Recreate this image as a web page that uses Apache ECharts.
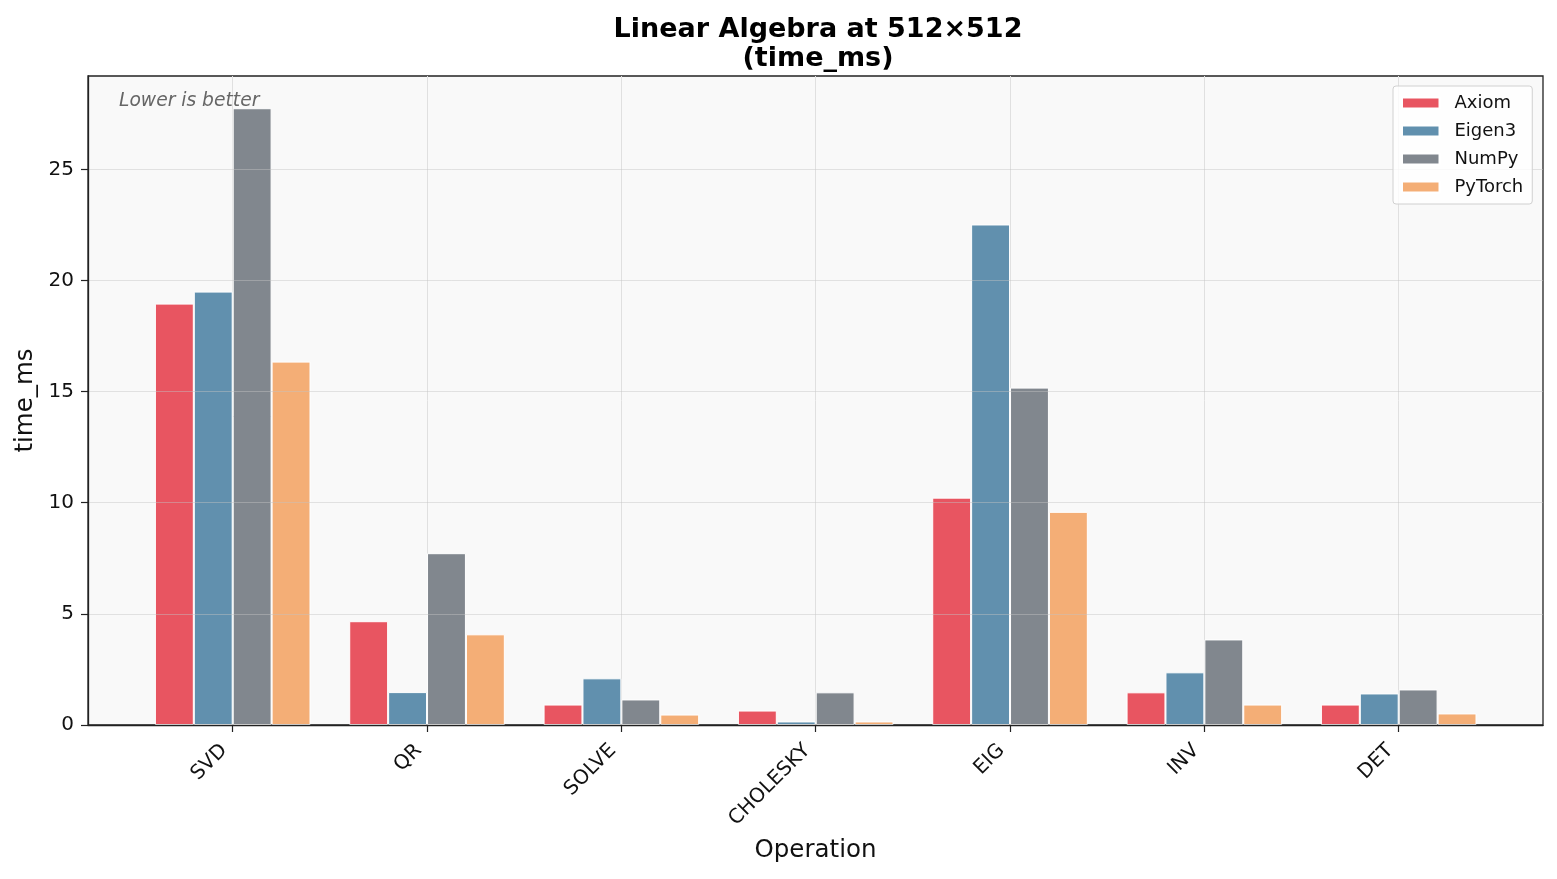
<!DOCTYPE html>
<html>
<head>
<meta charset="utf-8">
<script src="https://cdn.jsdelivr.net/npm/echarts@6/dist/echarts.min.js"></script>
<style>
  html, body { margin: 0; padding: 0; background: #fff; }
  #chart { width: 1557px; height: 879px; }
</style>
</head>
<body>
<div id="chart"></div>
<script>
// values
var operations = ['SVD', 'QR', 'SOLVE', 'CHOLESKY', 'EIG', 'INV', 'DET'];
var libraries = ['Axiom', 'Eigen3', 'NumPy', 'PyTorch'];
var axiom   = [18.96, 4.67, 0.92, 0.65, 10.23, 1.47, 0.92];
var eigen3  = [19.50, 1.48, 2.10, 0.16, 22.52, 2.37, 1.42];
var numpy   = [27.75, 7.73, 1.15, 1.47, 15.18, 3.85, 1.60];
var pytorch = [16.35, 4.08, 0.47, 0.16,  9.59, 0.92, 0.52];
var yTicks = [0, 5, 10, 15, 20, 25];

var colors = ['#e85561', '#6190ae', '#81878e', '#f4ae76'];
var font = 'DejaVu Sans';

var chart = echarts.init(document.getElementById('chart'));

var seriesData = [axiom, eigen3, numpy, pytorch];
var series = seriesData.map(function(d, i){
  return {
    name: libraries[i],
    type: 'bar',
    xAxisIndex: 1,
    yAxisIndex: 1,
    data: d,
    barWidth: 38.9,
    barGap: '0%',
    clip: false,
    itemStyle: { color: colors[i], borderColor: '#ffffff', borderWidth: 1 }
  };
});

chart.setOption({
  animation: false,
  textStyle: { fontFamily: font },
  title: [
    {
      text: 'Linear Algebra at 512×512\n(time_ms)',
      left: 813,
      top: 10,
      textAlign: 'center',
      textStyle: { fontFamily: font, fontSize: 27, fontWeight: 'bold', color: '#000', lineHeight: 29 }
    },
    {
      text: 'Lower is better',
      left: 114,
      top: 87,
      textStyle: { fontFamily: font, fontSize: 18.7, fontStyle: 'italic', fontWeight: 'normal', color: '#666' }
    }
  ],
  legend: {
    data: libraries,
    orient: 'vertical',
    left: 1393,
    top: 86,
    itemWidth: 37.5,
    itemHeight: 11,
    itemGap: 10,
    padding: [8, 9, 8, 8],
    backgroundColor: 'rgba(255,255,255,0.8)',
    borderColor: '#d0d0d0',
    borderWidth: 1,
    borderRadius: 3,
    icon: 'rect',
    textStyle: { fontFamily: font, fontSize: 18, color: '#111', padding: [0, 0, 0, 10] }
  },
  grid: [
    { left: 88, right: 14, top: 76, bottom: 154, show: true, backgroundColor: '#f9f9f9', borderColor: '#222', borderWidth: 1.3 },
    { left: 232.7, right: 158.3, top: 76, bottom: 154 }
  ],
  xAxis: [
    {
      type: 'value', gridIndex: 0, min: 0, max: 1, z: 4,
      axisLine: { show: true, lineStyle: { color: '#222', width: 1.3 } },
      axisTick: { show: false }, axisLabel: { show: false }, splitLine: { show: false },
      name: 'Operation', nameLocation: 'middle', nameGap: 113,
      nameTextStyle: { fontFamily: font, fontSize: 24.5, color: '#111' }
    },
    {
      type: 'category', gridIndex: 1, data: operations, boundaryGap: false,
      axisLine: { show: false },
      axisTick: { show: true, length: 7, lineStyle: { color: '#222', width: 1.2 } },
      axisLabel: {
        rotate: 45, fontFamily: font, fontSize: 20, color: '#111', margin: 14, interval: 0,
        padding: [0, 12, 0, 0]
      },
      splitLine: { show: true, lineStyle: { color: '#e0e0e0', width: 1 } }
    }
  ],
  yAxis: [
    {
      type: 'value', gridIndex: 0, min: 0, max: 29.2, interval: 5, z: 3,
      axisLine: { show: true, lineStyle: { color: '#222', width: 1.3 } },
      axisTick: { show: true, length: 7, customValues: yTicks, lineStyle: { color: '#222', width: 1.2 } },
      axisLabel: { fontFamily: font, fontSize: 20, color: '#111', margin: 14, customValues: yTicks },
      splitLine: { show: true, lineStyle: { color: 'rgba(195,195,195,0.45)', width: 1 } },
      name: 'time_ms', nameLocation: 'middle', nameGap: 45,
      nameTextStyle: { fontFamily: font, fontSize: 24.5, color: '#111' }
    },
    {
      type: 'value', gridIndex: 1, min: 0, max: 29.2, show: false, splitLine: { show: false }
    }
  ],
  series: series
});
</script>
</body>
</html>
